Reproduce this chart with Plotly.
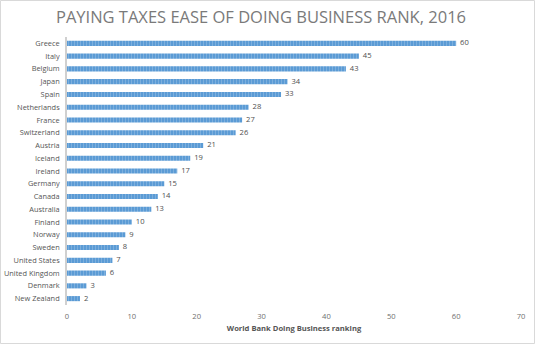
import plotly.graph_objects as go

countries = ["Greece", "Italy", "Belgium", "Japan", "Spain", "Netherlands", "France",
             "Switzerland", "Austria", "Iceland", "Ireland", "Germany", "Canada",
             "Australia", "Finland", "Norway", "Sweden", "United States",
             "United Kingdom", "Denmark", "New Zealand"]
ranks = [60, 45, 43, 34, 33, 28, 27, 26, 21, 19, 17, 15, 14, 13, 10, 9, 8, 7, 6, 3, 2]
x_ticks = [0, 10, 20, 30, 40, 50, 60, 70]

FONT = "Open Sans"

fig = go.Figure()
fig.add_trace(go.Bar(
    x=ranks, y=countries, orientation="h",
    marker=dict(color="#5b9bd5", line=dict(width=0),
                pattern=dict(shape="|", fgcolor="#9dc3e6", size=3, solidity=0.35)),
    hoverinfo="x+y",
))
fig.add_trace(go.Scatter(
    x=ranks, y=countries, mode="text",
    text=["  " + str(r) for r in ranks], textposition="middle right",
    textfont=dict(size=7.6, color="#505050", family=FONT),
    cliponaxis=False, hoverinfo="skip",
))

L, R, T, B = 67, 14, 37, 39
W, H = 535, 344
pw, ph = W - L - R, H - T - B

fig.update_layout(
    width=W, height=H,
    margin=dict(l=L, r=R, t=T, b=B),
    paper_bgcolor="white", plot_bgcolor="white",
    bargap=0.6,
    showlegend=False,
    title=dict(text="PAYING TAXES EASE OF DOING BUSINESS RANK, 2016",
               x=261 / W, xanchor="center", y=1 - 17 / H, yanchor="middle",
               font=dict(family="Open Sans", size=16.5, color="#7a7a7a")),
    xaxis=dict(range=[0, 70], tickvals=x_ticks, showgrid=False, zeroline=False,
               showline=False, ticks="", automargin=False, ticklabelstandoff=5,
               tickfont=dict(size=7.6, color="#707070", family=FONT),
               title=dict(text="<b>World Bank Doing Business ranking</b>", standoff=6,
                          font=dict(size=7.6, color="#555555", family=FONT))),
    yaxis=dict(range=[len(countries) - 0.5, -0.5], showgrid=False, zeroline=False,
               showline=True, linecolor="#d0d0d0", linewidth=2, ticks="", automargin=False,
               tickfont=dict(size=7.4, color="#555555", family=FONT), ticksuffix="  "),
    shapes=[dict(type="rect", xref="paper", yref="paper",
                 x0=(0.5 - L) / pw, x1=(W - 0.5 - L) / pw,
                 y0=-(B - 0.5) / ph, y1=1 + (T - 0.5) / ph,
                 line=dict(color="#d9d9d9", width=1), fillcolor="rgba(0,0,0,0)")],
)

fig.write_html("out.html")
